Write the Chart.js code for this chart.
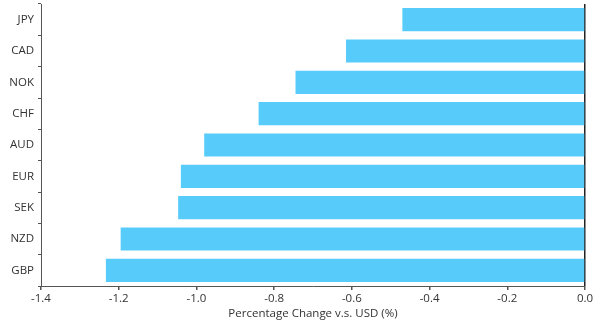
<!DOCTYPE html>
<html>
<head>
<meta charset="utf-8">
<script src="https://cdn.jsdelivr.net/npm/chart.js@4"></script>
<style>
  html, body { margin: 0; padding: 0; background: #fff; }
  #box { width: 604px; height: 323px; position: relative; }
</style>
</head>
<body>
<div id="box"><canvas id="grafico"></canvas></div>
<script>
// --- Dados ---
const moedas = ["JPY", "CAD", "NOK", "CHF", "AUD", "EUR", "SEK", "NZD", "GBP"];
const variacao = [-0.47, -0.615, -0.745, -0.84, -0.98, -1.04, -1.047, -1.195, -1.233];
const xMin = -1.4;
const xMax = 0;
const xPasso = 0.2;
const tituloX = "Percentage Change v.s. USD (%)";

const fonte = { family: "'Open Sans', sans-serif", size: 11.5 };
const corTexto = "#333";

// tira o espaço extra que os rótulos pedem nas bordas
function semPadding(s) {
    s.paddingTop = 0;
    s.paddingBottom = 0;
    s.paddingLeft = 0;
    s.paddingRight = 0;
}

new Chart(document.getElementById("grafico"), {
    type: 'bar',
    data: {
        labels: moedas,
        datasets: [{
            data: variacao,
            backgroundColor: '#57cbfa',
            borderWidth: 0,
            categoryPercentage: 1,
            barPercentage: 0.74
        }]
    },
    options: {
        indexAxis: 'y',
        responsive: true,
        maintainAspectRatio: false,
        animation: false,
        layout: { padding: { top: 4, right: 19, left: 0, bottom: 0 } },
        plugins: { legend: { display: false }, tooltip: { enabled: false } },
        scales: {
            x: {
                min: xMin,
                max: xMax,
                ticks: {
                    stepSize: xPasso,
                    color: corTexto,
                    font: fonte,
                    padding: 2,
                    maxRotation: 0,
                    callback: v => Number(v).toFixed(1)
                },
                grid: {
                    drawOnChartArea: true,
                    color: c => (c.tick && c.tick.value === 0) ? '#222' : 'rgba(0,0,0,0)',
                    lineWidth: 1.5,
                    tickColor: '#555',
                    tickLength: 4
                },
                border: { display: true, color: '#555', width: 1 },
                title: {
                    display: true,
                    text: tituloX,
                    color: corTexto,
                    font: fonte,
                    padding: { top: 0, bottom: 2 }
                },
                afterFit: s => { s.height = 37; semPadding(s); }
            },
            y: {
                ticks: { color: corTexto, font: fonte, padding: 4 },
                grid: {
                    drawOnChartArea: false,
                    tickColor: '#555',
                    tickLength: 3
                },
                border: { display: true, color: '#555', width: 1 },
                afterFit: s => { s.width = 41; semPadding(s); }
            }
        }
    }
});
</script>
</body>
</html>
